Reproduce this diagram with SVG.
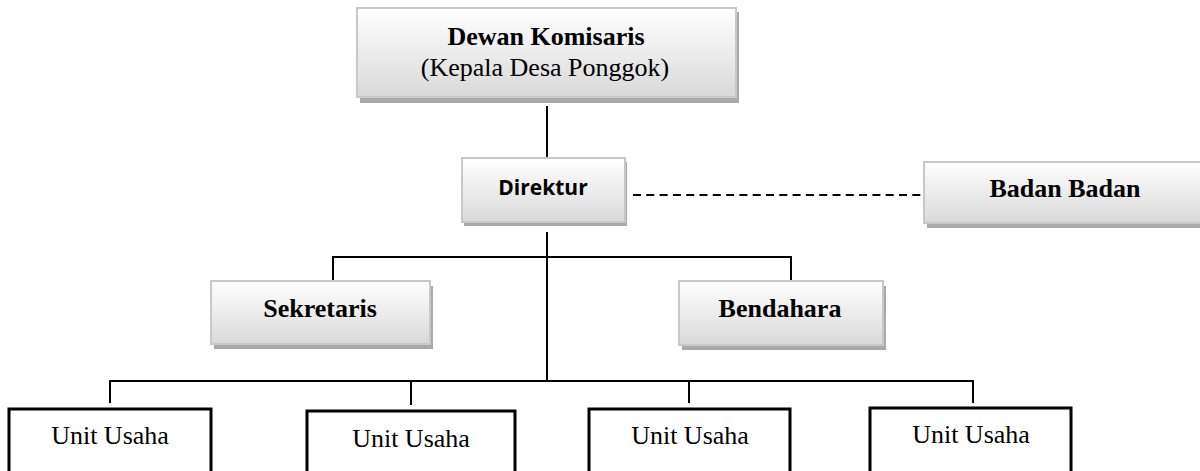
<svg xmlns="http://www.w3.org/2000/svg" width="1200" height="471" viewBox="0 0 1200 471">
  <style>
    .shadow { fill: #a9a9a9; }
    .box { fill: url(#grad); stroke: #c8c8c8; stroke-width: 2; }
    .unit { fill: #ffffff; stroke: #000000; stroke-width: 3; }
    .conn { fill: none; stroke: #000000; stroke-width: 2; }
    .dash { fill: none; stroke: #000000; stroke-width: 2; stroke-dasharray: 8 5.3; }
    .tb { font-family: "Liberation Serif", "Times New Roman", serif; font-weight: bold; font-size: 26px; fill: #000; text-anchor: middle; }
    .tr { font-family: "Liberation Serif", "Times New Roman", serif; font-size: 26px; fill: #000; text-anchor: middle; }
    .ts { font-family: "Open Sans", "DejaVu Sans", sans-serif; font-weight: bold; font-size: 21px; fill: #000; text-anchor: middle; }
  </style>
  <defs>
    <linearGradient id="grad" x1="0" y1="0" x2="0" y2="1">
      <stop offset="0" stop-color="#ffffff"/>
      <stop offset="1" stop-color="#d9d9d9"/>
    </linearGradient>
  </defs>
  <rect width="1200" height="471" fill="#ffffff"/>

  <g id="connectors">
    <path class="conn" d="M547 106 V158"/>
    <path class="conn" d="M547 232 V381"/>
    <path class="conn" d="M333 281 V257 H791 V281"/>
    <path class="conn" d="M110 403 V381 H973 V403"/>
    <path class="conn" d="M411 381 V405"/>
    <path class="conn" d="M689 381 V403"/>
    <path class="dash" d="M633 195 H922"/>
  </g>

  <g id="dewan-komisaris">
    <rect class="shadow" x="360" y="12" width="379" height="91"/>
    <rect class="box" x="357" y="8" width="379" height="89"/>
    <text class="tb" x="546" y="45">Dewan Komisaris</text>
    <text class="tr" x="545" y="76">(Kepala Desa Ponggok)</text>
  </g>

  <g id="direktur">
    <rect class="shadow" x="464" y="162" width="163" height="64"/>
    <rect class="box" x="462" y="158" width="163" height="64"/>
    <text class="ts" x="543" y="195">Direktur</text>
  </g>

  <g id="badan-badan">
    <rect class="shadow" x="927" y="166" width="290" height="62"/>
    <rect class="box" x="924" y="162" width="290" height="61"/>
    <text class="tb" x="1065" y="197">Badan Badan</text>
  </g>

  <g id="sekretaris">
    <rect class="shadow" x="214" y="286" width="219" height="63"/>
    <rect class="box" x="211" y="281" width="219" height="63"/>
    <text class="tb" x="320" y="317">Sekretaris</text>
  </g>

  <g id="bendahara">
    <rect class="shadow" x="682" y="286" width="204" height="64"/>
    <rect class="box" x="679" y="281" width="204" height="64"/>
    <text class="tb" x="780" y="317">Bendahara</text>
  </g>

  <g id="unit-usaha-1">
    <rect class="unit" x="9" y="409" width="202" height="80"/>
    <text class="tr" x="110" y="444">Unit Usaha</text>
  </g>
  <g id="unit-usaha-2">
    <rect class="unit" x="307" y="411" width="208" height="80"/>
    <text class="tr" x="411" y="447">Unit Usaha</text>
  </g>
  <g id="unit-usaha-3">
    <rect class="unit" x="589" y="409" width="201" height="80"/>
    <text class="tr" x="690" y="444">Unit Usaha</text>
  </g>
  <g id="unit-usaha-4">
    <rect class="unit" x="870" y="408" width="201" height="80"/>
    <text class="tr" x="971" y="443">Unit Usaha</text>
  </g>
</svg>
